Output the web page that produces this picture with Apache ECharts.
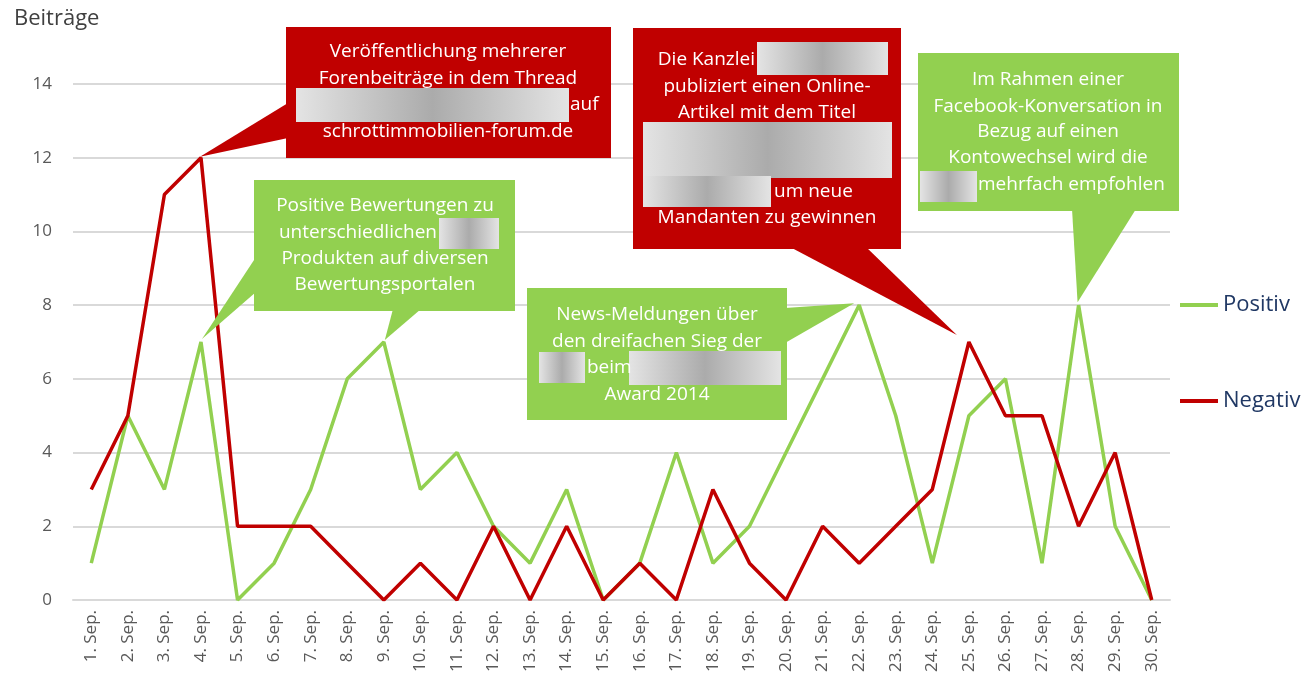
<!DOCTYPE html>
<html>
<head>
<meta charset="utf-8">
<script src="https://cdn.jsdelivr.net/npm/echarts@6/dist/echarts.min.js"></script>
<style>
html, body { margin: 0; padding: 0; background: #fff; }
#chart { width: 1308px; height: 688px; }
</style>
</head>
<body>
<div id="chart"></div>
<script>
var days = ['1. Sep.', '2. Sep.', '3. Sep.', '4. Sep.', '5. Sep.', '6. Sep.', '7. Sep.', '8. Sep.', '9. Sep.', '10. Sep.',
  '11. Sep.', '12. Sep.', '13. Sep.', '14. Sep.', '15. Sep.', '16. Sep.', '17. Sep.', '18. Sep.', '19. Sep.', '20. Sep.',
  '21. Sep.', '22. Sep.', '23. Sep.', '24. Sep.', '25. Sep.', '26. Sep.', '27. Sep.', '28. Sep.', '29. Sep.', '30. Sep.'];
var positiv = [1, 5, 3, 7, 0, 1, 3, 6, 7, 3, 4, 2, 1, 3, 0, 1, 4, 1, 2, 4, 6, 8, 5, 1, 5, 6, 1, 8, 2, 0];
var negativ = [3, 5, 11, 12, 2, 2, 2, 1, 0, 1, 0, 2, 0, 2, 0, 1, 0, 3, 1, 0, 2, 1, 2, 3, 7, 5, 5, 2, 4, 0];
var seriesNames = ['Positiv', 'Negativ'];

var GREEN = '#92D050';
var RED = '#C00000';
var FONT = '"Open Sans", "Noto Sans", sans-serif';

// annotation boxes; pointer tips are tied to a data point (series, index)
var callouts = [
  {
    color: RED, box: [286, 27, 325, 131],
    pointers: [{ base: [[288, 103], [288, 138]], series: 1, idx: 3, off: [-1, -1] }],
    texts: [
      { t: 'Veröffentlichung mehrerer', x: 448, y: 52 },
      { t: 'Forenbeiträge in dem Thread', x: 448, y: 79 },
      { t: 'auf', x: 570, y: 105, a: 'left' },
      { t: 'schrottimmobilien-forum.de', x: 448, y: 132 }
    ],
    blurs: [[296, 88, 273, 34]]
  },
  {
    color: RED, box: [633, 28, 268, 221],
    pointers: [{ base: [[790, 247], [866, 247]], series: 1, idx: 24, off: [-12, -7] }],
    texts: [
      { t: 'Die Kanzlei', x: 755, y: 60, a: 'right' },
      { t: 'publiziert einen Online-', x: 767, y: 87 },
      { t: 'Artikel mit dem Titel', x: 767, y: 113 },
      { t: 'um neue', x: 774, y: 192, a: 'left' },
      { t: 'Mandanten zu gewinnen', x: 767, y: 218 }
    ],
    blurs: [[757, 42, 131, 33], [643, 122, 249, 56], [643, 176, 128, 31]]
  },
  {
    color: GREEN, box: [254, 180, 261, 131],
    pointers: [
      { base: [[256, 257], [256, 292]], series: 0, idx: 3, off: [1, -3] },
      { base: [[393, 309], [421, 309]], series: 0, idx: 8, off: [1, -2] }
    ],
    texts: [
      { t: 'Positive Bewertungen zu', x: 385, y: 206 },
      { t: 'unterschiedlichen', x: 437, y: 233, a: 'right' },
      { t: 'Produkten auf diversen', x: 385, y: 259 },
      { t: 'Bewertungsportalen', x: 385, y: 285 }
    ],
    blurs: [[439, 218, 60, 31]]
  },
  {
    color: GREEN, box: [527, 288, 260, 132],
    pointers: [{ base: [[785, 308], [785, 343]], series: 0, idx: 21, off: [-5, -2] }],
    texts: [
      { t: 'News-Meldungen über', x: 657, y: 315 },
      { t: 'den dreifachen Sieg der', x: 657, y: 342 },
      { t: 'beim', x: 587, y: 368, a: 'left' },
      { t: 'Award 2014', x: 657, y: 395 }
    ],
    blurs: [[539, 352, 46, 31], [629, 351, 152, 34]]
  },
  {
    color: GREEN, box: [918, 53, 261, 158],
    pointers: [{ base: [[1072, 209], [1136, 209]], series: 0, idx: 27, off: [-1, -3] }],
    texts: [
      { t: 'Im Rahmen einer', x: 1048, y: 80 },
      { t: 'Facebook-Konversation in', x: 1048, y: 107 },
      { t: 'Bezug auf einen', x: 1048, y: 132 },
      { t: 'Kontowechsel wird die', x: 1048, y: 158 },
      { t: 'mehrfach empfohlen', x: 978, y: 185, a: 'left' }
    ],
    blurs: [[920, 171, 57, 31]]
  }
];

var myChart = echarts.init(document.getElementById('chart'));

myChart.setOption({
  animation: false,
  title: {
    text: 'Beiträge', left: 14, top: 8, padding: 0,
    textStyle: { fontFamily: FONT, fontSize: 22, fontWeight: 'normal', color: '#404040' }
  },
  legend: {
    orient: 'vertical', left: 1180, top: 294, itemGap: 74, padding: 0,
    itemWidth: 38, itemHeight: 4, icon: 'rect',
    data: seriesNames,
    textStyle: { fontFamily: FONT, fontSize: 22, color: '#203864' }
  },
  grid: { left: 73, right: 138, top: 84, bottom: 88 },
  xAxis: {
    type: 'category', data: days, boundaryGap: true,
    axisLine: { lineStyle: { color: '#d9d9d9', width: 2 } },
    axisTick: { show: false },
    axisLabel: { rotate: 90, margin: 10, interval: 0, fontFamily: FONT, fontSize: 17, color: '#595959' }
  },
  yAxis: {
    type: 'value', min: 0, max: 14, interval: 2,
    axisLine: { show: false }, axisTick: { show: false },
    axisLabel: { margin: 21, fontFamily: FONT, fontSize: 17, color: '#595959' },
    splitLine: { lineStyle: { color: '#d9d9d9', width: 2 } }
  },
  series: [
    {
      name: seriesNames[0], type: 'line', data: positiv, symbol: 'none',
      color: GREEN, lineStyle: { width: 3.5, color: GREEN }, z: 3
    },
    {
      name: seriesNames[1], type: 'line', data: negativ, symbol: 'none',
      color: RED, lineStyle: { width: 3.5, color: RED }, z: 4
    }
  ]
});

function blurFill() {
  return new echarts.graphic.LinearGradient(0, 0, 1, 0, [
    { offset: 0, color: '#e4e4e4' },
    { offset: 0.5, color: '#ababab' },
    { offset: 1, color: '#e4e4e4' }
  ]);
}

var seriesData = [positiv, negativ];
var elements = [];
callouts.forEach(function (c) {
  c.pointers.forEach(function (p) {
    var tip = myChart.convertToPixel({ gridIndex: 0 }, [p.idx, seriesData[p.series][p.idx]]);
    elements.push({
      type: 'polygon', z: 100,
      shape: { points: [p.base[0], [tip[0] + p.off[0], tip[1] + p.off[1]], p.base[1]] },
      style: { fill: c.color }
    });
  });
  elements.push({
    type: 'rect', z: 101,
    shape: { x: c.box[0], y: c.box[1], width: c.box[2], height: c.box[3] },
    style: { fill: c.color }
  });
  c.blurs.forEach(function (b) {
    elements.push({
      type: 'rect', z: 102,
      shape: { x: b[0], y: b[1], width: b[2], height: b[3] },
      style: { fill: blurFill() }
    });
  });
  c.texts.forEach(function (t) {
    elements.push({
      type: 'text', z: 103, x: t.x, y: t.y,
      style: {
        text: t.t, fill: '#ffffff', font: '19px ' + FONT,
        textAlign: t.a || 'center', textVerticalAlign: 'middle',
        align: t.a || 'center', verticalAlign: 'middle'
      }
    });
  });
});

myChart.setOption({ graphic: { elements: elements } });
</script>
</body>
</html>
